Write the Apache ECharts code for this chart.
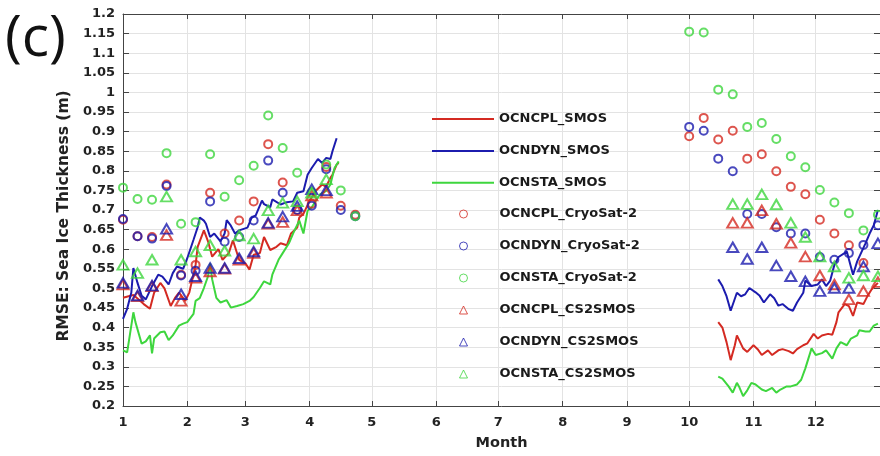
<!DOCTYPE html>
<html><head><meta charset="utf-8">
<script src="https://cdn.jsdelivr.net/npm/echarts@6/dist/echarts.min.js"></script>
<style>html,body{margin:0;padding:0;background:#fff}#c{width:880px;height:456px}</style>
</head><body><div id="c"></div>
<script>
// x axis: day of year (0 = 1 January); ticks at the first day of each month
const monthStarts = [0, 31, 59, 90, 120, 151, 181, 212, 243, 273, 304, 334];
const monthLabels = ['1','2','3','4','5','6','7','8','9','10','11','12'];
const yMin = 0.2, yMax = 1.2, yStep = 0.05;

// ---- daily RMSE against SMOS (lines) : [day, value]
const cplSmosEarly = [[0,0.476],[5,0.483],[8,0.47],[10,0.46],[13,0.448],[15,0.489],[18,0.514],[20,0.5],[23,0.455],[25,0.475],[27,0.489],[30,0.468],[32,0.49],[35,0.56],[36,0.606],[39,0.648],[41,0.62],[43,0.581],[46,0.6],[48,0.573],[51,0.59],[53,0.623],[56,0.573],[59,0.564],[61,0.548],[63,0.586],[66,0.59],[68,0.631],[71,0.598],[74,0.606],[76,0.615],[79,0.61],[81,0.64],[84,0.655],[85,0.681],[87,0.69],[90,0.724],[93,0.749],[96,0.765],[98,0.76],[100,0.782],[101,0.79],[103,0.816],[104,0.82]];
const cplSmosLate = [[287,0.414],[289,0.4],[291,0.363],[293,0.317],[295,0.355],[296,0.38],[299,0.347],[301,0.338],[304,0.355],[306,0.345],[308,0.33],[311,0.342],[313,0.33],[316,0.342],[318,0.345],[321,0.34],[323,0.334],[325,0.345],[328,0.355],[330,0.36],[333,0.384],[335,0.372],[337,0.38],[340,0.384],[342,0.382],[344,0.414],[345,0.439],[348,0.46],[350,0.455],[352,0.43],[354,0.464],[357,0.46],[359,0.481],[361,0.498],[364,0.514]];
const dynSmosEarly = [[0,0.422],[2,0.448],[4,0.489],[5,0.552],[7,0.514],[9,0.481],[11,0.472],[14,0.506],[17,0.535],[19,0.53],[22,0.51],[24,0.539],[26,0.556],[29,0.55],[31,0.577],[34,0.624],[36,0.656],[37,0.681],[39,0.673],[40,0.665],[42,0.631],[44,0.64],[47,0.62],[49,0.64],[50,0.674],[52,0.66],[54,0.64],[56,0.648],[60,0.655],[62,0.68],[64,0.686],[67,0.724],[68,0.715],[71,0.707],[72,0.727],[76,0.714],[79,0.72],[82,0.722],[84,0.744],[87,0.748],[89,0.79],[91,0.807],[94,0.83],[96,0.82],[98,0.833],[100,0.83],[101,0.85],[103,0.883]];
const dynSmosLate = [[287,0.523],[289,0.506],[291,0.48],[293,0.443],[296,0.489],[298,0.48],[300,0.485],[302,0.501],[305,0.49],[307,0.481],[309,0.464],[312,0.485],[314,0.475],[316,0.456],[318,0.46],[321,0.447],[323,0.443],[325,0.464],[328,0.489],[329,0.52],[332,0.506],[335,0.51],[337,0.523],[339,0.506],[341,0.52],[343,0.56],[345,0.58],[349,0.594],[352,0.535],[354,0.569],[358,0.615],[360,0.64],[362,0.661],[364,0.7]];
const staSmosEarly = [[0,0.342],[2,0.337],[5,0.439],[6,0.414],[9,0.359],[11,0.365],[13,0.38],[14,0.334],[15,0.372],[18,0.388],[20,0.39],[22,0.368],[24,0.38],[27,0.405],[29,0.41],[31,0.414],[34,0.435],[35,0.468],[37,0.475],[39,0.501],[41,0.531],[42,0.564],[43,0.523],[45,0.476],[47,0.464],[50,0.47],[52,0.451],[55,0.455],[58,0.46],[61,0.468],[63,0.478],[66,0.501],[68,0.518],[71,0.51],[72,0.535],[75,0.573],[77,0.59],[80,0.615],[82,0.64],[85,0.673],[87,0.64],[89,0.698],[91,0.707],[95,0.74],[98,0.749],[100,0.765],[102,0.807],[104,0.824]];
const staSmosLate = [[287,0.275],[289,0.27],[292,0.25],[294,0.234],[296,0.259],[297,0.25],[299,0.225],[301,0.24],[303,0.259],[305,0.255],[308,0.242],[310,0.238],[313,0.246],[315,0.234],[317,0.242],[320,0.25],[322,0.25],[325,0.255],[327,0.267],[329,0.296],[332,0.347],[334,0.33],[337,0.335],[339,0.342],[342,0.321],[344,0.347],[346,0.363],[349,0.355],[351,0.372],[354,0.38],[355,0.393],[358,0.39],[360,0.39],[362,0.405],[364,0.41]];

// ---- weekly RMSE against CryoSat-2 (circles)
const csDaysEarly = [0,7,14,21,28,35,42,49,56,63,70,77,84,91,98,105,112];
const csDaysLate = [273,280,287,294,301,308,315,322,329,336,343,350,357,364];
const cplCsEarly = [0.675,0.633,0.631,0.765,0.535,0.56,0.744,0.64,0.673,0.722,0.868,0.77,0.70,0.716,0.81,0.711,0.688];
const dynCsEarly = [0.677,0.633,0.627,0.761,0.533,0.545,0.722,0.619,0.631,0.673,0.826,0.744,0.70,0.711,0.804,0.70,0.684];
const staCsEarly = [0.757,0.728,0.726,0.845,0.665,0.669,0.842,0.734,0.776,0.813,0.941,0.858,0.795,0.745,0.816,0.75,0.684];
const cplCsLate = [0.888,0.935,0.880,0.902,0.831,0.842,0.799,0.759,0.74,0.675,0.64,0.61,0.565,'-'];
const dynCsLate = [0.912,0.902,0.831,0.799,0.69,0.69,0.656,0.64,0.64,0.58,0.573,0.59,0.611,0.661];
const staCsLate = [1.155,1.153,1.007,0.995,0.912,0.922,0.881,0.837,0.809,0.751,0.719,0.692,0.648,0.688];

// ---- weekly RMSE against CS2SMOS (triangles)
const triDaysEarly = [0,7,14,21,28,35,42,49,56,63,70,77,84,91,98];
const triDaysLate = [294,301,308,315,322,329,336,343,350,357,364];
const cplTriEarly = [0.51,0.48,0.505,0.636,0.468,0.527,0.543,0.55,0.573,0.59,0.665,0.669,0.699,0.737,0.744];
const dynTriEarly = [0.514,0.482,0.507,0.652,0.485,0.531,0.552,0.552,0.577,0.594,0.667,0.683,0.71,0.753,0.75];
const staTriEarly = [0.56,0.539,0.573,0.734,0.573,0.594,0.61,0.596,0.635,0.627,0.699,0.718,0.722,0.744,0.778];
const cplTriLate = [0.667,0.667,0.699,0.665,0.616,0.581,0.533,0.51,0.472,0.493,0.516];
const dynTriLate = [0.605,0.575,0.605,0.558,0.531,0.518,0.493,0.501,0.501,0.556,0.615];
const staTriLate = [0.715,0.715,0.74,0.714,0.667,0.631,0.581,0.556,0.527,0.533,0.531];

const RED = '#d42a22', BLUE = '#1c1cae', GREEN = '#3ed63e';
const FONT = 'DejaVu Sans';

function pairs(days, vals) { return days.map((d, i) => [d, vals[i]]); }
function withGap(a, b) { return a.concat([[200, '-']], b); }

function lineSeries(name, color, early, late) {
  return { type: 'line', name, data: withGap(early, late), symbol: 'none', showSymbol: false,
    lineStyle: { color, width: 2 }, itemStyle: { color }, z: 2, animation: false, connectNulls: false };
}
function scatterSeries(name, color, symbol, size, dE, vE, dL, vL, z) {
  return { type: 'scatter', name, symbol, symbolSize: size, symbolKeepAspect: true, clip: false, z,
    data: pairs(dE, vE).concat(pairs(dL, vL)),
    itemStyle: { color: 'rgba(255,255,255,0)', borderColor: color, borderWidth: 2 }, animation: false };
}

const chart = echarts.init(document.getElementById('c'), null, { renderer: 'canvas' });
const gridLine = { show: true, lineStyle: { color: '#e3e3e3', width: 1 } };
const axisLine = { show: true, onZero: false, lineStyle: { color: '#444', width: 1 } };
const labelStyle = { fontFamily: FONT, fontWeight: 'bold', fontSize: 13, color: '#222' };
const legendText = { fontFamily: FONT, fontWeight: 'bold', fontSize: 13, color: '#1a1a1a', lineHeight: 14 };
const lineNames = ['OCNCPL_SMOS', 'OCNDYN_SMOS', 'OCNSTA_SMOS'];
const markNames = ['OCNCPL_CryoSat-2', 'OCNDYN_CryoSat-2', 'OCNSTA_CryoSat-2', 'OCNCPL_CS2SMOS', 'OCNDYN_CS2SMOS', 'OCNSTA_CS2SMOS'];

chart.setOption({
  animation: false,
  backgroundColor: '#fff',
  grid: { left: 123, right: 0, top: 14, bottom: 44, containLabel: false },
  graphic: [{ type: 'text', left: 5, top: 11, style: { text: '(c)', font: '57px "Open Sans"', fill: '#111' } }],
  xAxis: [
    { type: 'value', min: 0, max: 365, position: 'bottom',
      name: 'Month', nameLocation: 'middle', nameGap: 30,
      nameTextStyle: { fontFamily: FONT, fontWeight: 'bold', fontSize: 14.5, color: '#222' },
      axisLine, axisTick: { show: true, inside: true, length: 5, customValues: monthStarts, lineStyle: { color: '#444' } },
      axisLabel: Object.assign({ customValues: monthStarts, margin: 10,
        formatter: v => monthLabels[monthStarts.indexOf(v)] }, labelStyle),
      splitLine: gridLine },
    { type: 'value', min: 0, max: 365, position: 'top',
      axisLine, axisTick: { show: true, inside: true, length: 5, customValues: monthStarts, lineStyle: { color: '#444' } },
      axisLabel: { show: false, customValues: monthStarts }, splitLine: { show: false } }
  ],
  yAxis: [
    { type: 'value', min: yMin, max: yMax, interval: yStep, position: 'left',
      name: 'RMSE: Sea Ice Thickness (m)', nameLocation: 'middle', nameGap: 40,
      nameTextStyle: { fontFamily: FONT, fontWeight: 'bold', fontSize: 15.5, color: '#222', padding: [0, 12, 0, 0] },
      axisLine, axisTick: { show: true, inside: true, length: 6, lineStyle: { color: '#444' } },
      axisLabel: Object.assign({ margin: 8, formatter: v => String(Math.round(v * 100) / 100) }, labelStyle),
      splitLine: gridLine },
    { type: 'value', min: yMin, max: yMax, interval: yStep, position: 'right',
      axisLine, axisTick: { show: true, inside: true, length: 6, lineStyle: { color: '#444' } },
      axisLabel: { show: false }, splitLine: { show: false } }
  ],
  legend: [
    { data: lineNames.map(n => ({ name: n, icon: 'rect' })), orient: 'vertical', left: 427, top: 107,
      itemWidth: 62, itemHeight: 2, itemGap: 17.9, selectedMode: false, textStyle: legendText },
    { data: markNames, orient: 'vertical', left: 454, top: 202, itemWidth: 8, itemHeight: 8, itemGap: 18,
      selectedMode: false, itemStyle: { borderWidth: 1 },
      textStyle: Object.assign({ padding: [0, 0, 0, 27] }, legendText) }
  ],
  series: [
    lineSeries(lineNames[0], RED, cplSmosEarly, cplSmosLate),
    lineSeries(lineNames[1], BLUE, dynSmosEarly, dynSmosLate),
    lineSeries(lineNames[2], GREEN, staSmosEarly, staSmosLate),
    scatterSeries(markNames[0], RED, 'circle', 8, csDaysEarly, cplCsEarly, csDaysLate, cplCsLate, 3),
    scatterSeries(markNames[1], BLUE, 'circle', 8, csDaysEarly, dynCsEarly, csDaysLate, dynCsLate, 3),
    scatterSeries(markNames[2], GREEN, 'circle', 8, csDaysEarly, staCsEarly, csDaysLate, staCsLate, 3),
    scatterSeries(markNames[3], RED, 'triangle', [11, 9.5], triDaysEarly, cplTriEarly, triDaysLate, cplTriLate, 4),
    scatterSeries(markNames[4], BLUE, 'triangle', [11, 9.5], triDaysEarly, dynTriEarly, triDaysLate, dynTriLate, 4),
    scatterSeries(markNames[5], GREEN, 'triangle', [11, 9.5], triDaysEarly, staTriEarly, triDaysLate, staTriLate, 4)
  ]
});
</script>
</body></html>
